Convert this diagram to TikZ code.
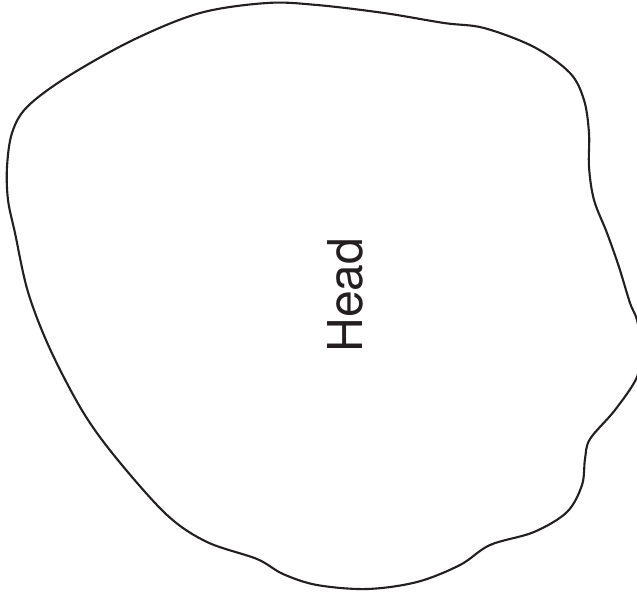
\documentclass[tikz,border=0pt]{standalone}
\usepackage{fontspec}
\setmainfont{TeX Gyre Heros}
\definecolor{ink}{HTML}{231F20}
\begin{document}
\begin{tikzpicture}[x=1pt,y=-1pt,
  outline/.style={draw=ink,line width=2.1pt,line join=round},
  label/.style={text=ink,inner sep=0pt,font=\fontsize{48}{56}\selectfont,rotate=90}]
\useasboundingbox (0,0) rectangle (637,592);
\draw[outline] plot[smooth cycle,tension=0.55] coordinates {
 (267,3) (317,5) (384,13) (444,23) (484,28) (534,47) (570,73) (584,100)
 (589,133) (589,167) (594,200) (607,233) (619,267) (630,303) (637,320)
 (641,348) (637,377) (615,410) (590,439) (585,459) (582,485) (567,512)
 (534,532) (490,545) (460,565) (417,582) (367,589) (317,585) (283,574)
 (257,559) (207,542) (167,515) (117,459) (83,412) (50,349) (28,292)
 (15,233) (8,200) (7,167) (12,133) (27,107) (67,77) (133,40) (200,13)};
\node[label] (head) at (345,295) {Head};
\end{tikzpicture}
\end{document}
